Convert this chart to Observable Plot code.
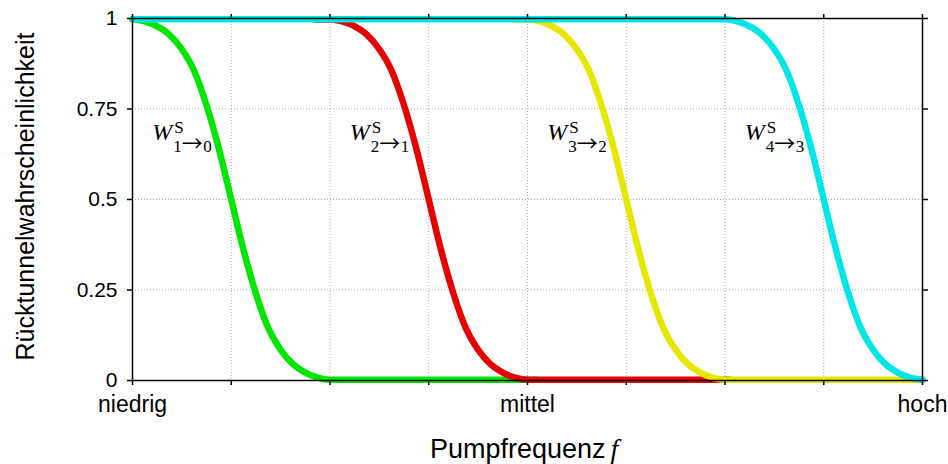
<!DOCTYPE html>
<html>
<head>
<meta charset="utf-8">
<script src="https://cdn.jsdelivr.net/npm/d3@7"></script>
<script src="https://cdn.jsdelivr.net/npm/@observablehq/plot@0.6"></script>
<style>
  html, body { margin: 0; padding: 0; background: #fff; }
  #chart { width: 948px; height: 464px; }
</style>
</head>
<body>
<div id="chart"></div>
<script>
// ---- data ----
const xTicks = [0, 1, 2, 3, 4, 5, 6, 7, 8];
const xLabelPos = [0, 4, 8];
const xLabels = ["niedrig", "mittel", "hoch"];
const yTicks = [0, 0.25, 0.5, 0.75, 1];
const yLabels = ["0", "0.25", "0.5", "0.75", "1"];
const xTitle = "Pumpfrequenz";
const xTitleVar = "f";
const yTitle = "Rücktunnelwahrscheinlichkeit";

const subFrom = ["1", "2", "3", "4"];
const subTo = ["0", "1", "2", "3"];
const seriesColors = ["#00e600", "#e60000", "#e6e600", "#00e6e6"];

// W(1→0) green
const greenX = [0, 0.125, 0.25, 0.375, 0.5, 0.625, 0.75, 0.875, 1, 1.125, 1.25, 1.375, 1.5, 1.625, 1.75, 1.875, 2, 4.1];
const greenY = [0.997, 0.992, 0.978, 0.955, 0.915, 0.855, 0.76, 0.64, 0.5, 0.36, 0.24, 0.145, 0.085, 0.045, 0.022, 0.008, 0.002, 0.002];
// W(2→1) red
const redX = [1.85, 2, 2.125, 2.25, 2.375, 2.5, 2.625, 2.75, 2.875, 3, 3.125, 3.25, 3.375, 3.5, 3.625, 3.75, 3.875, 4, 6.05];
const redY = [0.997, 0.997, 0.992, 0.978, 0.955, 0.915, 0.855, 0.76, 0.64, 0.5, 0.36, 0.24, 0.145, 0.085, 0.045, 0.022, 0.008, 0.002, 0.002];
// W(3→2) yellow
const yellowX = [3.85, 4, 4.125, 4.25, 4.375, 4.5, 4.625, 4.75, 4.875, 5, 5.125, 5.25, 5.375, 5.5, 5.625, 5.75, 5.875, 6, 8];
const yellowY = [0.997, 0.997, 0.992, 0.978, 0.955, 0.915, 0.855, 0.76, 0.64, 0.5, 0.36, 0.24, 0.145, 0.085, 0.045, 0.022, 0.008, 0.002, 0.002];
// W(4→3) cyan
const cyanX = [0, 6, 6.125, 6.25, 6.375, 6.5, 6.625, 6.75, 6.875, 7, 7.125, 7.25, 7.375, 7.5, 7.625, 7.75, 7.875, 8];
const cyanY = [0.998, 0.998, 0.992, 0.978, 0.955, 0.915, 0.855, 0.76, 0.64, 0.5, 0.36, 0.24, 0.145, 0.085, 0.045, 0.022, 0.008, 0.002];

const labelX = [0.2, 2.2, 4.2, 6.2];
const labelY = 0.663;

// ---- build tables ----
const xs = [greenX, redX, yellowX, cyanX];
const ys = [greenY, redY, yellowY, cyanY];
const curves = xs.map((X, k) => X.map((x, i) => ({x, y: ys[k][i]})));
const labels = labelX.map((x, i) => ({x, y: labelY, a: subFrom[i], b: subTo[i]}));
const xLabelMap = new Map(xLabelPos.map((p, i) => [p, xLabels[i]]));
const yLabelMap = new Map(yTicks.map((p, i) => [p, yLabels[i]]));

const serif = "'Liberation Serif', 'Times New Roman', serif";

const chart = Plot.plot({
  width: 948,
  height: 464,
  marginLeft: 132,
  marginRight: 26,
  marginTop: 18,
  marginBottom: 84,
  style: {fontFamily: "'Liberation Sans', Arial, sans-serif", fontSize: "21px", background: "#fff", color: "#000"},
  x: {domain: [0, 8], axis: null},
  y: {domain: [0, 1], axis: null},
  marks: [
    Plot.gridX(xTicks, {stroke: "#aaa", strokeOpacity: 1, strokeDasharray: "1,2", strokeWidth: 1}),
    Plot.gridY(yTicks, {stroke: "#aaa", strokeOpacity: 1, strokeDasharray: "1,2", strokeWidth: 1}),
    ...curves.map((c, k) => Plot.line(c, {x: "x", y: "y", stroke: seriesColors[k], strokeWidth: 6.5, curve: "monotone-x"})),
    Plot.frame({stroke: "#000", strokeWidth: 1.5}),
    Plot.axisX(xTicks, {anchor: "top", tickSize: 5, strokeWidth: 1.5, tickFormat: () => "", label: null}),
    Plot.axisX(xTicks, {anchor: "bottom", tickSize: 5, strokeWidth: 1.5, tickFormat: () => "", label: null}),
    Plot.axisX(xLabelPos, {anchor: "bottom", tickSize: 0, tickPadding: 15, fontSize: 23, tickFormat: d => xLabelMap.get(d), label: null}),
    Plot.axisY(yTicks, {anchor: "right", tickSize: 5, strokeWidth: 1.5, tickFormat: () => "", label: null}),
    Plot.axisY(yTicks, {anchor: "left", tickSize: 5, strokeWidth: 1.5, tickPadding: 10, fontSize: 21, tickFormat: d => yLabelMap.get(d), label: null}),
    Plot.text([xTitle], {text: d => d, frameAnchor: "bottom", textAnchor: "end", lineAnchor: "bottom", dx: 78, dy: 77, fontSize: 27}),
    Plot.text([xTitleVar], {text: d => d, frameAnchor: "bottom", textAnchor: "start", lineAnchor: "bottom", dx: 83, dy: 77, fontSize: 28, fontFamily: serif, fontStyle: "italic"}),
    Plot.text([yTitle], {text: d => d, frameAnchor: "left", textAnchor: "middle", rotate: -90, dx: -107, dy: -3, fontSize: 25}),
    Plot.text(labels, {x: "x", y: "y", text: () => "W", textAnchor: "start", lineAnchor: "bottom", fontSize: 24, fontFamily: serif, fontStyle: "italic"}),
    Plot.text(labels, {x: "x", y: "y", text: () => "S", textAnchor: "start", lineAnchor: "bottom", dx: 22, dy: -7, fontSize: 17, fontFamily: serif}),
    Plot.text(labels, {x: "x", y: "y", text: "a", textAnchor: "start", lineAnchor: "bottom", dx: 21, dy: 12, fontSize: 17, fontFamily: serif}),
    Plot.text(labels, {x: "x", y: "y", text: () => "→", textAnchor: "start", lineAnchor: "bottom", dx: 29.5, dy: 11, fontSize: 21, fontFamily: "'Noto Sans CJK JP', 'DejaVu Sans', sans-serif"}),
    Plot.text(labels, {x: "x", y: "y", text: "b", textAnchor: "start", lineAnchor: "bottom", dx: 51, dy: 12, fontSize: 17, fontFamily: serif})
  ]
});
document.getElementById("chart").appendChild(chart);
</script>
</body>
</html>
